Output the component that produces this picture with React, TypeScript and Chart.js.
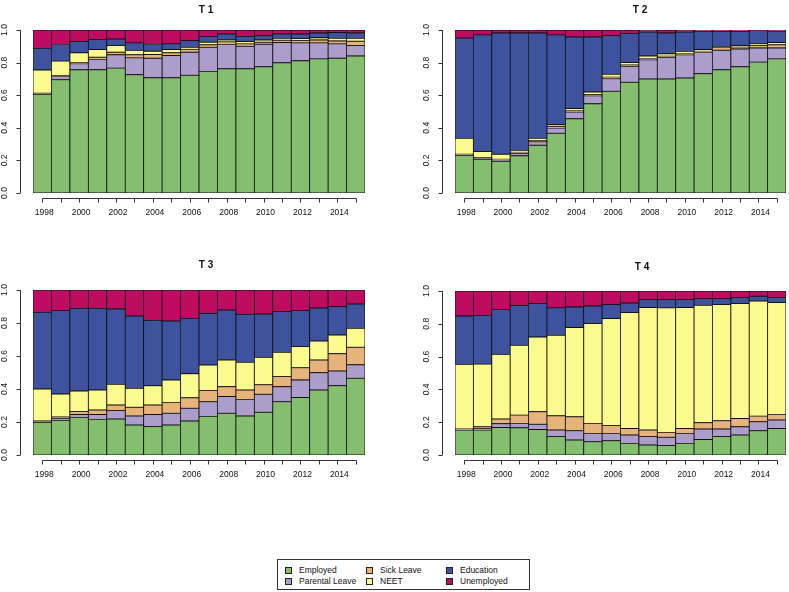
import React, { useEffect, useRef } from "react";
import { Chart, registerables } from "chart.js";

Chart.register(...registerables);

// ---------- data ----------
const years = ["1998","1999","2000","2001","2002","2003","2004","2005","2006","2007","2008","2009","2010","2011","2012","2013","2014","2015"];
const xTickLabels = ["1998","2000","2002","2004","2006","2008","2010","2012","2014"];
const yTicks = [0, 0.2, 0.4, 0.6, 0.8, 1.0];
const seriesNames = ["Employed","Parental Leave","Sick Leave","NEET","Education","Unemployed"];
const seriesColors = ["#86BE6F","#AD9DCB","#E6B47A","#FAFA8E","#3E529E","#BE0C63"];

const t1Employed = [0.605,0.695,0.756,0.756,0.766,0.726,0.707,0.707,0.722,0.746,0.762,0.762,0.774,0.799,0.811,0.823,0.827,0.841];
const t1Parental = [0.005,0.020,0.037,0.063,0.082,0.103,0.120,0.136,0.142,0.148,0.149,0.138,0.139,0.124,0.110,0.098,0.088,0.063];
const t1Sick = [0.002,0.005,0.007,0.014,0.016,0.019,0.023,0.017,0.018,0.015,0.016,0.015,0.012,0.014,0.014,0.018,0.018,0.027];
const t1Neet = [0.143,0.089,0.060,0.047,0.040,0.026,0.020,0.020,0.012,0.016,0.012,0.014,0.014,0.012,0.012,0.014,0.016,0.018];
const t1Education = [0.133,0.102,0.069,0.061,0.041,0.047,0.041,0.035,0.041,0.036,0.037,0.032,0.026,0.027,0.029,0.029,0.036,0.033];
const t1Unemployed = [0.112,0.089,0.071,0.059,0.055,0.079,0.089,0.085,0.065,0.039,0.024,0.039,0.035,0.024,0.024,0.018,0.015,0.018];

const t2Employed = [0.232,0.207,0.195,0.228,0.293,0.366,0.455,0.547,0.624,0.679,0.699,0.699,0.705,0.732,0.756,0.774,0.803,0.823];
const t2Parental = [0.003,0.005,0.006,0.016,0.022,0.032,0.041,0.049,0.077,0.097,0.118,0.132,0.143,0.130,0.120,0.110,0.087,0.067];
const t2Sick = [0.003,0.005,0.006,0.006,0.006,0.009,0.008,0.008,0.010,0.009,0.008,0.008,0.008,0.008,0.016,0.012,0.014,0.019];
const t2Neet = [0.097,0.037,0.031,0.012,0.014,0.012,0.014,0.016,0.017,0.016,0.016,0.015,0.012,0.010,0.006,0.008,0.011,0.014];
const t2Education = [0.616,0.716,0.744,0.720,0.647,0.551,0.439,0.337,0.237,0.179,0.147,0.128,0.120,0.110,0.094,0.088,0.081,0.071];
const t2Unemployed = [0.049,0.030,0.018,0.018,0.018,0.030,0.043,0.043,0.035,0.020,0.012,0.018,0.012,0.010,0.008,0.008,0.004,0.006];

const t3Employed = [0.198,0.210,0.228,0.216,0.218,0.182,0.172,0.182,0.206,0.234,0.253,0.236,0.259,0.323,0.349,0.394,0.420,0.465];
const t3Parental = [0.004,0.012,0.018,0.030,0.051,0.054,0.074,0.071,0.077,0.089,0.101,0.101,0.109,0.091,0.106,0.105,0.089,0.082];
const t3Sick = [0.004,0.008,0.017,0.027,0.034,0.053,0.057,0.066,0.064,0.067,0.060,0.057,0.058,0.061,0.074,0.077,0.105,0.106];
const t3Neet = [0.194,0.140,0.125,0.121,0.125,0.115,0.117,0.136,0.146,0.155,0.162,0.168,0.166,0.147,0.128,0.115,0.113,0.115];
const t3Education = [0.465,0.505,0.501,0.495,0.457,0.438,0.396,0.357,0.335,0.314,0.303,0.291,0.263,0.247,0.218,0.200,0.172,0.147];
const t3Unemployed = [0.135,0.125,0.111,0.111,0.115,0.158,0.184,0.188,0.172,0.141,0.121,0.147,0.145,0.131,0.125,0.109,0.101,0.085];

const t4Employed = [0.152,0.152,0.168,0.166,0.156,0.112,0.091,0.081,0.087,0.071,0.061,0.057,0.071,0.095,0.112,0.122,0.148,0.162];
const t4Parental = [0.005,0.008,0.023,0.027,0.031,0.040,0.057,0.051,0.045,0.051,0.051,0.051,0.061,0.063,0.046,0.050,0.055,0.051];
const t4Sick = [0.005,0.012,0.028,0.050,0.077,0.087,0.085,0.061,0.047,0.040,0.040,0.030,0.030,0.039,0.051,0.051,0.034,0.034];
const t4Neet = [0.390,0.382,0.394,0.426,0.456,0.491,0.544,0.608,0.653,0.706,0.747,0.759,0.737,0.716,0.708,0.700,0.702,0.682];
const t4Education = [0.296,0.298,0.275,0.244,0.203,0.167,0.126,0.108,0.085,0.059,0.048,0.050,0.048,0.040,0.036,0.036,0.029,0.030];
const t4Unemployed = [0.152,0.148,0.112,0.087,0.077,0.103,0.097,0.091,0.083,0.073,0.053,0.053,0.053,0.047,0.047,0.041,0.032,0.041];

const FONT = "'Liberation Sans', Arial, Helvetica, sans-serif";

// ---------- R-style axes + title plugin ----------
const rAxesPlugin = {
  id: "rAxes",
  afterDraw(chart: any, _args: any, opts: any) {
    const { ctx, chartArea, scales } = chart;
    const xs = scales.x;
    const ys = scales.y;
    ctx.save();
    ctx.strokeStyle = "#333";
    ctx.lineWidth = 1;
    ctx.fillStyle = "#111";

    // title
    ctx.font = `bold 10px ${FONT}`;
    ctx.textAlign = "center";
    ctx.textBaseline = "middle";
    ctx.fillText(opts.title, opts.titleX, opts.titleY);

    // y axis
    ctx.font = `8.5px ${FONT}`;
    const ax = Math.round(chartArea.left - 13) + 0.5;
    const yb = ys.getPixelForValue(0);
    const yt = ys.getPixelForValue(1);
    ctx.beginPath();
    ctx.moveTo(ax, yb);
    ctx.lineTo(ax, yt);
    yTicks.forEach((v) => {
      const y = Math.round(ys.getPixelForValue(v)) + 0.5;
      ctx.moveTo(ax, y);
      ctx.lineTo(ax - 4, y);
    });
    ctx.stroke();
    yTicks.forEach((v) => {
      ctx.save();
      ctx.translate(chartArea.left - 28, ys.getPixelForValue(v));
      ctx.rotate(-Math.PI / 2);
      ctx.textAlign = "center";
      ctx.textBaseline = "middle";
      ctx.fillText(v.toFixed(1), 0, 0);
      ctx.restore();
    });

    // x axis
    const ay = Math.round(chartArea.bottom + 5) + 0.5;
    const xFirst = xs.getPixelForValue(0);
    const xLast = xs.getPixelForValue(years.length - 1);
    ctx.beginPath();
    ctx.moveTo(Math.round(xFirst) + 0.5, ay);
    ctx.lineTo(Math.round(xLast) + 0.5, ay);
    years.forEach((_y, i) => {
      const x = Math.round(xs.getPixelForValue(i)) + 0.5;
      ctx.moveTo(x, ay);
      ctx.lineTo(x, ay + 4);
    });
    ctx.stroke();
    ctx.textAlign = "center";
    ctx.textBaseline = "middle";
    xTickLabels.forEach((lab) => {
      const i = years.indexOf(lab);
      ctx.fillText(lab, xs.getPixelForValue(i) + 2, chartArea.bottom + 20);
    });
    ctx.restore();
  },
};

type PanelProps = {
  title: string;
  series: number[][];
  left: number;
  top: number;
  width: number;
  height: number;
  plot: { l: number; r: number; t: number; b: number };
  titleX: number;
  titleY: number;
};

function Panel(p: PanelProps) {
  const ref = useRef<HTMLCanvasElement | null>(null);
  useEffect(() => {
    if (!ref.current) return;
    const chart = new Chart(ref.current, {
      type: "bar",
      data: {
        labels: years,
        datasets: p.series.map((vals, k) => ({
          label: seriesNames[k],
          data: vals,
          backgroundColor: seriesColors[k],
          borderColor: "#111",
          borderWidth: 0.8,
          borderSkipped: false,
          barPercentage: 1,
          categoryPercentage: 1,
          stack: "s",
        })),
      },
      options: {
        animation: false,
        responsive: false,
        events: [],
        layout: {
          padding: {
            left: p.plot.l - p.left,
            right: p.left + p.width - p.plot.r,
            top: p.plot.t - p.top,
            bottom: p.top + p.height - p.plot.b,
          },
        },
        scales: {
          x: { type: "category", stacked: true, display: false, offset: true },
          y: { type: "linear", stacked: true, display: false, min: 0, max: 1 },
        },
        plugins: {
          legend: { display: false },
          title: { display: false },
          tooltip: { enabled: false },
          rAxes: { title: p.title, titleX: p.titleX - p.left, titleY: p.titleY - p.top },
        } as any,
      },
      plugins: [rAxesPlugin],
    } as any);
    return () => chart.destroy();
  }, []);
  return (
    <canvas
      ref={ref}
      width={p.width}
      height={p.height}
      style={{ position: "absolute", left: p.left, top: p.top, width: p.width, height: p.height }}
    />
  );
}

function Legend() {
  const cols = [285, 366, 446];
  const rows = [570, 581];
  const items = seriesNames.map((name, k) => ({
    name,
    color: seriesColors[k],
    col: Math.floor(k / 2),
    row: k % 2,
  }));
  return (
    <div>
      <div
        style={{
          position: "absolute",
          left: 277,
          top: 559,
          width: 253,
          height: 31,
          border: "1px solid #333",
          boxSizing: "border-box",
        }}
      />
      {items.map((it) => (
        <React.Fragment key={it.name}>
          <div
            style={{
              position: "absolute",
              left: cols[it.col],
              top: rows[it.row] - 3.5,
              width: 7,
              height: 7,
              background: it.color,
              border: "1px solid #222",
              boxSizing: "border-box",
            }}
          />
          <div
            style={{
              position: "absolute",
              left: cols[it.col] + 14,
              top: rows[it.row] - 6,
              height: 12,
              lineHeight: "12px",
              fontFamily: FONT,
              fontSize: "8.5px",
              color: "#111",
              whiteSpace: "nowrap",
            }}
          >
            {it.name}
          </div>
        </React.Fragment>
      ))}
    </div>
  );
}

export default function App() {
  return (
    <div
      style={{
        position: "fixed",
        left: 0,
        top: 0,
        width: 789,
        height: 592,
        background: "#fff",
        overflow: "hidden",
      }}
    >
      <Panel
        title="T 1"
        series={[t1Employed, t1Parental, t1Sick, t1Neet, t1Education, t1Unemployed]}
        left={0} top={0} width={394} height={235}
        plot={{ l: 33, r: 365, t: 30, b: 193 }}
        titleX={206} titleY={10}
      />
      <Panel
        title="T 2"
        series={[t2Employed, t2Parental, t2Sick, t2Neet, t2Education, t2Unemployed]}
        left={394} top={0} width={395} height={235}
        plot={{ l: 455, r: 786, t: 30, b: 193 }}
        titleX={640} titleY={10}
      />
      <Panel
        title="T 3"
        series={[t3Employed, t3Parental, t3Sick, t3Neet, t3Education, t3Unemployed]}
        left={0} top={250} width={394} height={240}
        plot={{ l: 33, r: 365, t: 290, b: 455 }}
        titleX={206} titleY={265}
      />
      <Panel
        title="T 4"
        series={[t4Employed, t4Parental, t4Sick, t4Neet, t4Education, t4Unemployed]}
        left={394} top={250} width={395} height={240}
        plot={{ l: 455, r: 786, t: 291, b: 455 }}
        titleX={642} titleY={267}
      />
      <Legend />
    </div>
  );
}
